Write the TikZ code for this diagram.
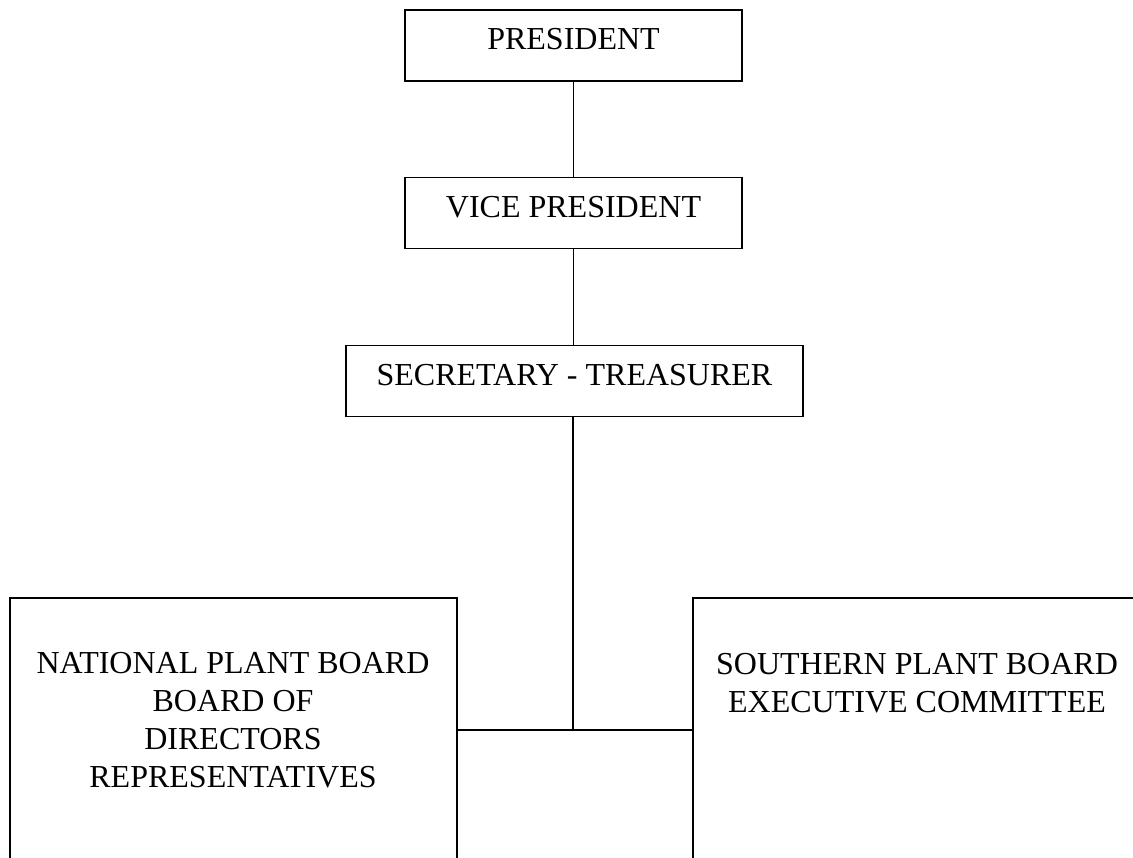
\documentclass[tikz,border=0pt]{standalone}
\usepackage{fontspec}
\setmainfont{Liberation Serif}
\begin{document}
\begin{tikzpicture}[x=1pt,y=-1pt,
  box/.style={draw, line width=1.9pt, rectangle, inner sep=0pt, outer sep=0pt},
  lbl/.style={font=\fontsize{32}{38}\selectfont, align=center, inner sep=0pt},
  topbox/.style={box, minimum width=337, minimum height=71, font=\fontsize{32}{38}\selectfont, text height=21.5, text depth=12.5},
  conn/.style={line width=1.9pt}]
\useasboundingbox (0,0) rectangle (1133,858);
\clip (0,0) rectangle (1133,858);
\node[topbox] (pres) at (573.5,45.5) {PRESIDENT};
\node[topbox] (vp) at (573.5,213) {VICE PRESIDENT};
\node[topbox, minimum width=457] (sec) at (574.5,381) {SECRETARY - TREASURER};
\node[box, minimum width=447, minimum height=320] (nat) at (233.5,758) {};
\node[box, minimum width=470, minimum height=320] (sou) at (928,758) {};
\node[lbl] (natl) at (233,720.5) {NATIONAL PLANT BOARD\\BOARD OF\\DIRECTORS\\REPRESENTATIVES};
\node[lbl] (soul) at (917,683.5) {SOUTHERN PLANT BOARD\\EXECUTIVE COMMITTEE};
\coordinate (j) at (573,730);
\draw[conn] (pres.south) -- (vp.north);
\draw[conn] (vp.south) -- (sec.north -| vp.south);
\draw[conn] (sec.south -| j) -- (j);
\draw[conn] (nat.east |- j) -- (sou.west |- j);
\end{tikzpicture}
\end{document}
